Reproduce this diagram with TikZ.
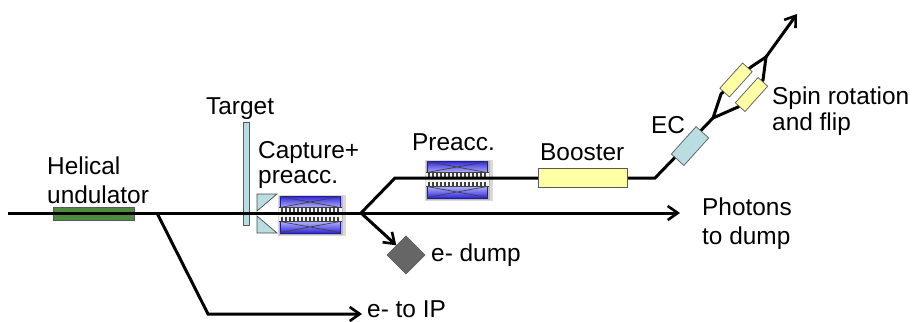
\documentclass[tikz,border=0pt]{standalone}
\usepackage{fontspec}
\setmainfont{Liberation Sans}
\usetikzlibrary{arrows.meta}
\definecolor{ecblue}{HTML}{B9DDE0}
\definecolor{boxyellow}{HTML}{FFFFA6}
\definecolor{unduGreen}{HTML}{4E8B3C}
\definecolor{cavblue}{HTML}{2E26D8}
\definecolor{cavlight}{HTML}{BCBCFF}

\begin{document}
\begin{tikzpicture}[
    x=1pt, y=-1pt,
    beam/.style={draw=black, line width=3pt, line join=miter},
    beam arrow/.style={beam, -{Straight Barb[length=10pt,width=14pt,line width=2.6pt]}},
    box/.style={draw=black!65, line width=0.7pt, minimum height=0pt, minimum width=0pt, inner sep=0pt, outer sep=0pt},
    yellow box/.style={box, fill=boxyellow},
    ec box/.style={box, fill=ecblue},
    label/.style={font=\fontsize{24.4}{28}\selectfont, inner sep=0pt, anchor=base west},
    coil/.style={draw=black!75, line width=0.7pt}
]
    \useasboundingbox (0,0) rectangle (912,321);

    % target and capture horn
    \node[ec box, minimum width=6pt, minimum height=103pt] (target) at (246,173.5) {};
    \filldraw[fill=ecblue, draw=black!70, line width=0.7pt] (257,194) -- (277,194) -- (257,211) -- cycle;
    \filldraw[fill=ecblue, draw=black!70, line width=0.7pt] (257,216) -- (257,233) -- (277,233) -- cycle;

    % rf modules
    \foreach \name/\cx/\cy in {capture/310/214.5, preacc/457/179.5} {
        \begin{scope}[shift={(\cx,\cy)}]
            \fill[gray!30] (-32,-20) rectangle (36,21);
            \fill[gray!55] (-31,-19) rectangle (33,20);
            \node[draw=none, inner sep=0pt, minimum width=60pt, minimum height=37pt] (\name) at (0,0) {};
            \shade[top color=cavblue, bottom color=cavlight] (-30,-18.5) rectangle (30,-6);
            \shade[top color=cavlight, bottom color=cavblue] (-30,6) rectangle (30,18.5);
            \draw[draw=cavblue!70!black, line width=0.6pt] (-30,-18.5) rectangle (30,18.5);
            \draw[coil] (-30,-18) -- (30,-7) (-30,-7) -- (30,-18);
            \draw[coil] (-30,18) -- (30,7) (-30,7) -- (30,18);
            \fill[white!92!gray] (-31,-7) rectangle (32,7);
            \foreach \i in {0,...,14} {
                \draw[coil, line width=1.5pt] (-28+\i*4,-7) -- (-28+\i*4,-2);
                \draw[coil, line width=1.5pt] (-28+\i*4,2) -- (-28+\i*4,7);
            }
            \draw[coil] (-31,-7) -- (32,-7) (-31,7) -- (32,7);
        \end{scope}
    }

    % beam points
    \coordinate (start) at (8,213);
    \coordinate (branch) at (157,213);
    \coordinate (corner) at (208,314);
    \coordinate (to ip) at (362,314);
    \coordinate (split) at (361,213);
    \coordinate (photons) at (680,213);
    \coordinate (rise) at (395,178);
    \coordinate (bend) at (655,178);
    \coordinate (fork) at (713,118);
    \coordinate (merge) at (766,57);
    \coordinate (exit) at (797,14);

    \node[box, fill=unduGreen, minimum width=81pt, minimum height=13pt] (undulator) at (93.5,213.5) {};

    \draw[beam] (start) -- (split);
    \draw[beam arrow] (branch) -- (corner) -- (to ip);
    \draw[beam arrow] (split) -- (photons);
    \draw[beam] (split) -- (rise) -- (bend) -- (fork);
    \draw[beam arrow] (merge) -- (exit);
    \draw[beam] (fork) -- (721,94) -- (751,67) -- (merge);
    \draw[beam] (fork) -- (738,107) -- (763,80) -- (merge);

    % dump
    \node[fill=black!60, draw=black!70, line width=0.4pt, minimum size=27pt, rotate=45, inner sep=0pt] (dump) at (406,255) {};
    \draw[beam arrow] (split) -- (dump.north);

    \node[yellow box, minimum width=89pt, minimum height=19pt] (booster) at (582.5,177.5) {};
    \node[ec box, minimum width=37pt, minimum height=17pt, rotate=48] (ec) at (690,146) {};
    \node[yellow box, minimum width=34pt, minimum height=13pt, rotate=48] (spin upper) at (736,80) {};
    \node[yellow box, minimum width=34pt, minimum height=13pt, rotate=48] (spin lower) at (751.5,94.5) {};

    % labels
    \node[label] (target text) at (206,114) {Target};
    \node[label] (capture text) at (258,158) {Capture+};
    \node[label] (capture text b) at (258,183) {preacc.};
    \node[label] (helical text) at (47,174) {Helical};
    \node[label] (undulator text) at (47,203) {undulator};
    \node[label] (preacc text) at (412,150) {Preacc.};
    \node[label] (booster text) at (540,160) {Booster};
    \node[label] (ec text) at (651,133) {EC};
    \node[label] (spin text) at (772,104) {Spin rotation};
    \node[label] (flip text) at (772,130) {and flip};
    \node[label] (photons text) at (702,215) {Photons};
    \node[label] (dump text) at (702,244) {to dump};
    \node[label] (edump text) at (431,261) {e- dump};
    \node[label] (ip text) at (367,317) {e- to IP};

\end{tikzpicture}
\end{document}
